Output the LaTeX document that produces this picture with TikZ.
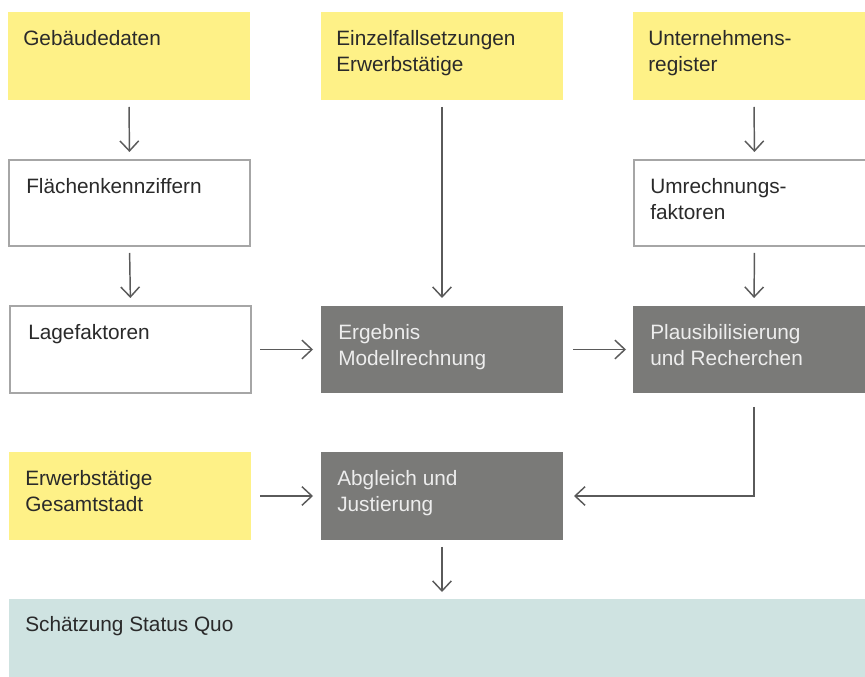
\documentclass[tikz,border=0pt]{standalone}
\usepackage{fontspec}
\setmainfont{Liberation Sans}
\usetikzlibrary{arrows.meta,calc}
\definecolor{ylw}{HTML}{FEF187}
\definecolor{dgray}{HTML}{7A7A78}
\definecolor{teal1}{HTML}{CFE3E1}
\definecolor{bord}{HTML}{A6A6A6}
\definecolor{arrc}{HTML}{5A5A5A}
\definecolor{txtc}{HTML}{2A2A2A}
\begin{document}
\begin{tikzpicture}[x=0.75pt,y=-0.75pt,
  box/.style={anchor=north west,inner sep=0pt,outer sep=0pt,minimum width=242*0.75pt,minimum height=88*0.75pt},
  ybox/.style={box,fill=ylw},
  wbox/.style={box,fill=white,draw=bord,line width=1.1pt},
  gbox/.style={box,fill=dgray},
  txt/.style={anchor=north west,inner sep=0pt,align=left,text=txtc,font=\fontsize{15.6pt}{19.5pt}\selectfont},
  ltxt/.style={txt,text=white!93!black},
  edge/.style={draw=bord,line width=1.1pt},
  arr/.style={draw=arrc,line width=1.1pt,-{Straight Barb[length=7.5pt,width=14pt,line width=1.1pt]}}
]
\useasboundingbox (0,0) rectangle (865,677);
\clip (0,0) rectangle (865,677);
% row 1
\node[ybox] (a1) at (8,12) {};
\node[ybox] (b1) at (321,12) {};
\node[ybox] (c1) at (633,12) {};
% row 2
\node[wbox,minimum width=241*0.75pt,minimum height=86*0.75pt] (a2) at (9,160) {};
\node[box,fill=white,minimum width=241*0.75pt,minimum height=86*0.75pt] (c2) at (634,160) {};
\draw[edge] (c2.north east) -- (c2.north west) -- (c2.south west) -- (c2.south east);
% row 3
\node[wbox,minimum width=241*0.75pt,minimum height=87*0.75pt] (a3) at (10,306) {};
\node[gbox,minimum height=87*0.75pt] (b3) at (321,306) {};
\node[gbox,minimum height=87*0.75pt] (c3) at (633,306) {};
% row 4
\node[ybox] (a4) at (9,452) {};
\node[gbox] (b4) at (321,452) {};
% row 5
\node[box,fill=teal1,minimum width=870*0.75pt,minimum height=80*0.75pt] (s5) at (9,599) {};

% texts
\node[txt] (a1t) at (23,27) {\strut Gebäudedaten};
\node[txt] (b1t) at (336,27) {\strut Einzelfallsetzungen\\\strut Erwerbstätige};
\node[txt] (c1t) at (648,27) {\strut Unternehmens-\\\strut register};
\node[txt] (a2t) at (26,175) {\strut Flächenkennziffern};
\node[txt] (c2t) at (650,175) {\strut Umrechnungs-\\\strut faktoren};
\node[txt] (a3t) at (28,321) {\strut Lagefaktoren};
\node[ltxt] (b3t) at (338,321) {\strut Ergebnis\\\strut Modellrechnung};
\node[ltxt] (c3t) at (650,321) {\strut Plausibilisierung\\\strut und Recherchen};
\node[txt] (a4t) at (25,467) {\strut Erwerbstätige\\\strut Gesamtstadt};
\node[ltxt] (b4t) at (337,467) {\strut Abgleich und\\\strut Justierung};
\node[txt] (s5t) at (25,613) {\strut Schätzung Status Quo};

% arrows
\draw[arr,shorten <=5.25pt,shorten >=6pt] (a1.south) -- (a2.north);
\draw[arr,shorten <=5.25pt,shorten >=6pt] (a2.south) -- (a3.north);
\draw[arr,shorten <=5.25pt,shorten >=6pt] (b1.south) -- (b3.north);
\draw[arr,shorten <=5.25pt,shorten >=6pt] (c1.south) -- (c2.north);
\draw[arr,shorten <=5.25pt,shorten >=6pt] (c2.south) -- (c3.north);
\draw[arr,shorten <=6.75pt,shorten >=6pt] (a3.east) -- (b3.west);
\draw[arr,shorten <=7.5pt,shorten >=5.25pt] (b3.east) -- (c3.west);
\draw[arr,shorten <=6.75pt,shorten >=6pt] (a4.east) -- (b4.west);
\draw[arr,shorten <=10.5pt,shorten >=8.25pt] (c3.south) |- (b4.east);
\draw[arr,shorten <=5.25pt,shorten >=5.25pt] (b4.south) -- (s5.north -| b4.south);
\end{tikzpicture}
\end{document}
